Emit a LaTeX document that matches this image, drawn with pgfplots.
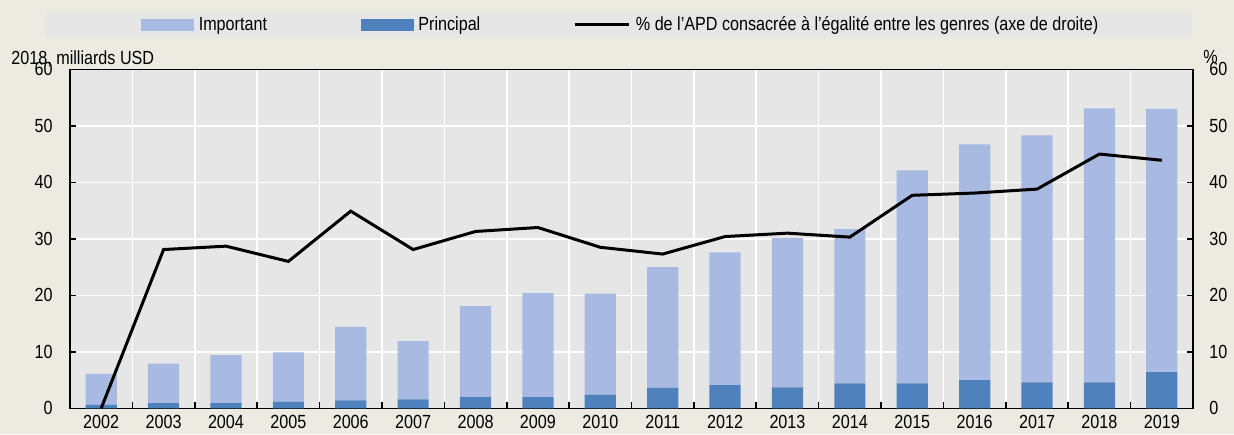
\documentclass[border=0pt]{standalone}
\usepackage{fontspec}
\setmainfont{Liberation Sans}[FakeStretch=0.85]
\usepackage{pgfplots}
\usepackage{pgfplotstable}
\pgfplotsset{compat=1.18}
\definecolor{imp}{RGB}{168,186,226}
\definecolor{pri}{RGB}{79,129,189}
\definecolor{plotbg}{RGB}{230,230,230}
\definecolor{outbg}{RGB}{237,235,225}
\definecolor{legbg}{RGB}{230,230,230}
\pgfplotstableread{
x  imp  pri  pct
0  5.5  0.6  0.0
1  7.0  0.9  28.1
2  8.5  0.9  28.7
3  8.7  1.2  26.0
4  13.0 1.4  34.9
5  10.3 1.6  28.1
6  16.1 2.0  31.3
7  18.4 2.0  32.0
8  17.9 2.4  28.5
9  21.4 3.6  27.3
10 23.5 4.1  30.4
11 26.4 3.7  31.0
12 27.3 4.4  30.3
13 37.7 4.4  37.7
14 41.7 5.0  38.1
15 43.7 4.6  38.8
16 48.5 4.6  45.0
17 46.6 6.4  43.9
}\data
\pgfplotsset{/pgf/number format/assume math mode=true}
\begin{document}
\fontsize{9.5}{11}\selectfont
\begin{tikzpicture}
\fill[outbg] (-35pt,-13pt) rectangle (582pt,204.15pt);
\useasboundingbox (-35pt,-13pt) rectangle (582pt,204.15pt);
\fill[legbg] (-12.5pt,185.8pt) rectangle (561pt,198pt);
\begin{axis}[
  width=561.5pt, height=169.5pt, scale only axis,
  at={(0,0)}, anchor=south west,
  xmin=-0.5, xmax=17.5, ymin=0, ymax=60,
  axis background/.style={fill=plotbg},
  xtick={0,...,17},
  xticklabels={2002,2003,2004,2005,2006,2007,2008,2009,2010,2011,2012,2013,2014,2015,2016,2017,2018,2019},
  minor xtick={-0.5,0.5,...,17.5},
  xminorgrids, ymajorgrids,
  grid style={white, line width=0.8pt},
  minor grid style={white, line width=0.8pt},
  major grid style={white, line width=0.8pt},
  major x tick style={draw=none},
  tick align=inside,
  major tick length=3pt, minor tick length=3pt,
  xtick pos=left, ytick pos=left,
  ytick={0,10,...,60},
  axis line style={line width=0.8pt},
  tick style={black, line width=0.8pt},
  yticklabel style={inner sep=0pt, xshift=-8.5pt},
  xticklabel style={inner sep=0pt, yshift=-3.5pt},
  ylabel={2018, milliards USD},
  every axis y label/.style={at={(axis description cs:-0.0525,1.0324)}, anchor=west, inner sep=0pt},
  ybar stacked, bar width=15.6pt,
  legend columns=3,
  legend cell align=left,
  legend style={at={(axis description cs:0.0632,1.131)}, anchor=west,
    draw=none, fill=none, inner sep=0pt, outer sep=0pt,
    nodes={inner sep=0pt},
    /tikz/every odd column/.style={column sep=2.5pt},
    /tikz/every even column/.style={column sep=46.8pt}},
]
\addlegendimage{legend image code/.code={\fill[imp] (0pt,-2.675pt) rectangle (26pt,2.675pt);}}
\addlegendentry{Important}
\addlegendimage{legend image code/.code={\fill[pri] (0pt,-2.675pt) rectangle (26pt,2.675pt);}}
\addlegendentry{Principal}
\addlegendimage{legend image code/.code={\draw[black,line width=1.5pt] (0pt,0pt) -- (27pt,0pt);}}
\addlegendentry{\% de l’APD consacrée à l’égalité entre les genres (axe de droite)}
\addplot[fill=pri, draw=none, forget plot] table[x=x,y=pri]{\data};
\addplot[fill=imp, draw=none, forget plot] table[x=x,y=imp]{\data};
\end{axis}
\begin{axis}[
  width=561.5pt, height=169.5pt, scale only axis,
  at={(0,0)}, anchor=south west,
  xmin=-0.5, xmax=17.5, ymin=0, ymax=60,
  axis y line*=right, axis x line=none,
  ytick={0,10,...,60},
  tick align=inside,
  major tick length=3pt,
  axis line style={line width=0.8pt},
  tick style={black, line width=0.8pt},
  yticklabel style={inner sep=0pt, xshift=8pt, anchor=west},
  ylabel={\%},
  every axis y label/.style={at={(axis description cs:1.0089,1.036)}, anchor=west, inner sep=0pt},
]
\addplot[black, line width=1.5pt, mark=none] table[x=x,y=pct]{\data};
\end{axis}
\end{tikzpicture}
\end{document}
